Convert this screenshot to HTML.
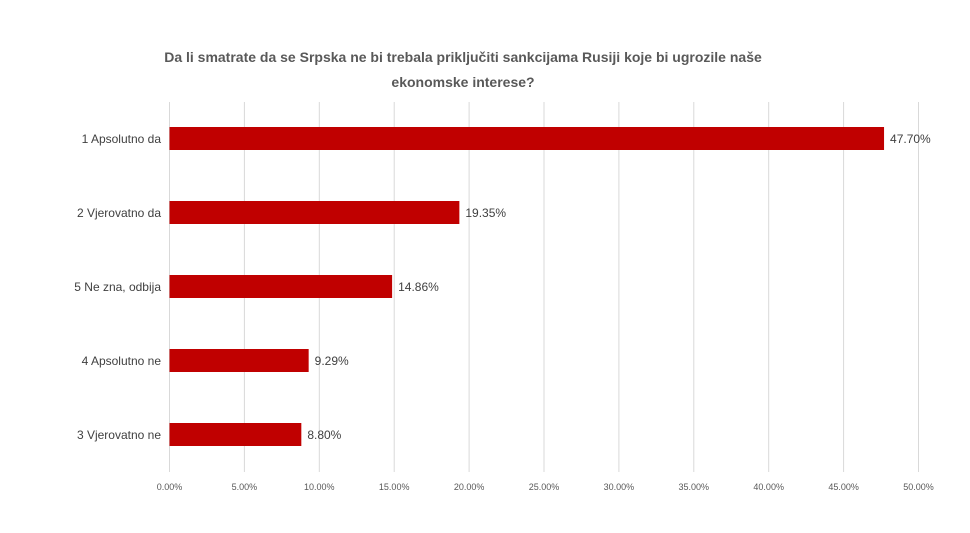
<!DOCTYPE html>
<html><head><meta charset="utf-8"><style>
body{margin:0;background:#fff;}
svg{display:block;font-family:"Liberation Sans",sans-serif;}
</style></head><body>
<svg id="chart" width="970" height="533">
<text x="463" y="62" text-anchor="middle" font-size="14" font-weight="bold" fill="#595959">Da li smatrate da se Srpska ne bi trebala priključiti sankcijama Rusiji koje bi ugrozile naše</text>
<text x="463" y="87" text-anchor="middle" font-size="14" font-weight="bold" fill="#595959">ekonomske interese?</text>
<g id="grid"></g><g id="bars"></g>
</svg>
<script>
const categories=["1 Apsolutno da","2 Vjerovatno da","5 Ne zna, odbija","4 Apsolutno ne","3 Vjerovatno ne"];
const values=[47.70,19.35,14.86,9.29,8.80];
const ticks=[0,5,10,15,20,25,30,35,40,45,50];
const tickLabels=["0.00%","5.00%","10.00%","15.00%","20.00%","25.00%","30.00%","35.00%","40.00%","45.00%","50.00%"];
const NS="http://www.w3.org/2000/svg";
const x=v=>169.5+v*(918.5-169.5)/50;
const y=i=>138.5+i*74;
const grid=document.getElementById('grid'),bars=document.getElementById('bars');
function mk(p,tag,a){const e=document.createElementNS(NS,tag);for(const k in a)e.setAttribute(k,a[k]);p.appendChild(e);return e;}
ticks.forEach((t,i)=>{
const l=mk(grid,'line',{x1:x(t),x2:x(t),y1:102,y2:472,stroke:'#d9d9d9','stroke-width':1});


const tx=mk(grid,'text',{x:x(t),y:490,'text-anchor':'middle','font-size':9,fill:'#595959'});
tx.textContent=tickLabels[i];


});
values.forEach((v,i)=>{
const r=mk(bars,'rect',{x:x(0),y:y(i)-11.5,width:x(v)-x(0),height:23,fill:'#c00000'});


const c=mk(bars,'text',{x:161,y:y(i)+4.5,'text-anchor':'end','font-size':12,fill:'#404040'});
c.textContent=categories[i];


const d=mk(bars,'text',{x:x(v)+6,y:y(i)+4.5,'font-size':12,fill:'#404040'});
d.textContent=v.toFixed(2)+'%';


});
</script>
</body></html>
